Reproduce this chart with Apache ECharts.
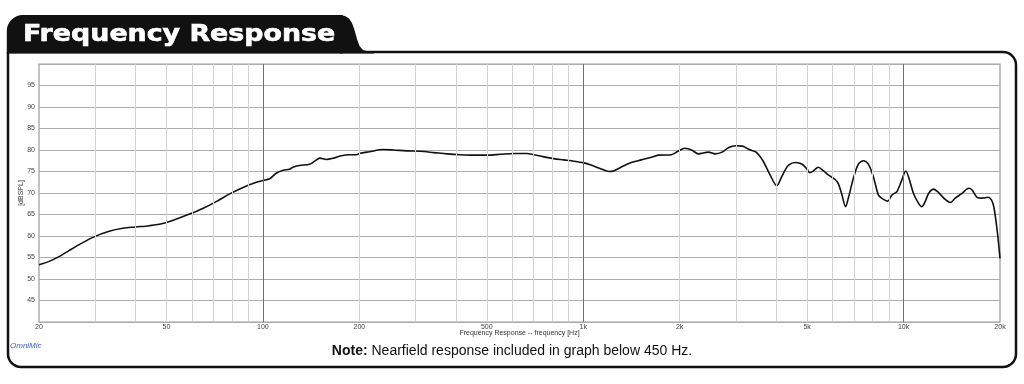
<!DOCTYPE html>
<html><head><meta charset="utf-8">
<script src="https://cdn.jsdelivr.net/npm/echarts@6/dist/echarts.min.js"></script>
<style>html,body{margin:0;padding:0;background:#fff}#c{width:1024px;height:384px}</style>
</head><body><div id="c"></div>
<script>
// Frequency (Hz)
const freqs = [20,21.5,23.1,24.8,26.7,29.7,33.1,36.5,40.1,44.2,48.7,53.5,59,64.9,71.5,78.8,86.7,95.4,100,105,110,115.7,121,124,130,140,145,150.6,158,166,174,187,196,200,215,237,255,281,310,342,376,414,456,502,552,608,668,700,754,808,870,936,1005,1057,1138,1203,1249,1344,1412,1518,1632,1714,1883,1976,2076,2180,2289,2460,2584,2711,2846,2990,3140,3298,3464,3638,3820,4020,4166,4266,4374,4594,4826,5000,5096,5224,5416,5614,5820,6104,6254,6405,6592,6723,6970,7226,7490,7764,8048,8346,8546,8924,9186,9522,9872,10160,10360,10740,11140,11400,11680,11970,12410,12860,13490,13990,14500,15220,15970,16360,16960,17580,18360,18800,19130,19590,20000];
// SPL (dB)
const spl = [53.3,54.1,55.2,56.6,58.0,59.8,61.1,61.8,62.1,62.4,62.9,63.9,65.1,66.4,68.0,69.8,71.3,72.5,72.9,73.3,74.6,75.3,75.5,76.0,76.4,76.7,77.4,78.1,77.8,78.1,78.6,78.9,78.9,79.2,79.6,80.1,80.0,79.8,79.7,79.4,79.1,78.9,78.8,78.8,79.0,79.2,79.2,78.9,78.4,78.0,77.7,77.4,77.0,76.5,75.6,75.0,75.2,76.4,77.1,77.7,78.3,78.8,78.9,79.7,80.4,80.0,79.1,79.5,79.1,79.5,80.6,81.0,80.9,80.1,79.5,77.5,74.4,71.7,73.8,75.3,76.5,77.1,76.7,75.5,74.7,75.1,76.0,75.2,74.2,73.2,72.2,69.9,66.8,68.8,73.4,76.7,77.5,76.7,73.8,69.5,68.8,68.1,69.5,70.3,73.0,75.1,73.8,69.9,67.6,66.8,68.0,69.9,70.9,70.1,68.5,67.8,68.8,69.9,71.1,70.7,69.0,68.8,69.0,68.4,66.8,61.4,54.8];
const minorFreqs = [30,40,50,60,70,80,90,200,300,400,500,600,700,800,900,2000,3000,4000,5000,6000,7000,8000,9000];
const majorFreqs = [100,1000,10000];
const tickFreqs = [20,50,100,200,500,1000,2000,5000,10000,20000];
const tickLabels = ['20','50','100','200','500','1k','2k','5k','10k','20k'];
const yTicks = [45,50,55,60,65,70,75,80,85,90,95];

const chart = echarts.init(document.getElementById('c'), null, {renderer:'canvas'});

const lineItems = [];
minorFreqs.forEach(f => lineItems.push({xAxis:f, lineStyle:{color:'#d2d2d2', width:1, type:'solid'}, label:{show:false}}));
majorFreqs.forEach(f => lineItems.push({xAxis:f, lineStyle:{color:'#6e6e6e', width:1, type:'solid'}, label:{show:false}}));
tickFreqs.forEach((f,i) => lineItems.push({xAxis:f, lineStyle:{color:'rgba(0,0,0,0)', width:0}, label:{show:true, formatter: tickLabels[i], color:'#444'}}));

const font = '"Liberation Sans", Arial, sans-serif';

chart.setOption({
  animation:false,
  backgroundColor:'#fff',
  grid:{left:39, right:24, top:64, bottom:62, show:true, borderColor:'#9a9a9a', borderWidth:1.2, backgroundColor:'transparent'},
  xAxis:{type:'log', logBase:10, min:20, max:20000,
    axisLine:{show:false}, axisTick:{show:false}, axisLabel:{show:false}, splitLine:{show:false},
    name:'Frequency Response -- frequency [Hz]', nameLocation:'middle', nameGap:8,
    nameTextStyle:{fontSize:7, color:'#333', fontFamily:font}},
  yAxis:{type:'value', min:40, max:100, interval:5,
    axisLine:{show:false}, axisTick:{show:false},
    axisLabel:{fontSize:7, color:'#444', fontFamily:font, margin:4,
      formatter: v => yTicks.indexOf(v) >= 0 ? String(v) : ''},
    splitLine:{show:true, lineStyle:{color:'#adadad', width:1.2}},
    name:'[dBSPL]', nameLocation:'middle', nameGap:14, nameRotate:90, nameMoveOverlap:false,
    nameTextStyle:{fontSize:7, color:'#333', fontFamily:font}},
  series:[
    {type:'line', data:[], z:1, silent:true,
      markLine:{silent:true, symbol:['none','none'], animation:false,
        label:{position:'start', fontSize:7, color:'#444', fontFamily:font, distance:2},
        data: lineItems}},
    {type:'line', z:3, data: freqs.map((f,i)=>[f, spl[i]]), showSymbol:false, symbol:'none',
      smooth:0.3, lineStyle:{color:'#111', width:1.6}}
  ],
  graphic:[
    {type:'rect', z:10, shape:{x:8, y:52, width:1008, height:315, r:[0,13,13,13]},
      style:{fill:'none', stroke:'#111', lineWidth:2.5}},
    {type:'rect', z:11, shape:{x:6.8, y:15, width:336, height:38.5, r:[16,0,0,0]},
      style:{fill:'#111'}},
    {type:'polygon', z:11, shape:{points:[[340,15],[345,16],[349,18.5],[352,23],[354.5,30],[357,39],[359.5,46],[363,50],[368,51.5],[374,52],[374,53.5],[340,53.5]]},
      style:{fill:'#111'}},
    {type:'text', z:12, x:23, y:35, scaleX:1.22, scaleY:1.02,
      style:{text:'Frequency Response', fill:'#fff', fontSize:22, fontWeight:'bold', fontFamily:'"DejaVu Sans", sans-serif', align:'left', verticalAlign:'middle', stroke:'#fff', lineWidth:0.6}},
    {type:'text', z:12, x:10, y:346,
      style:{text:'OmniMic', fill:'#3d5cc0', fontSize:8, fontStyle:'italic', fontFamily:font, align:'left', verticalAlign:'middle'}},
    {type:'text', z:12, x:512, y:351,
      style:{text:'{b|Note:} Nearfield response included in graph below 450 Hz.', fill:'#111', fontSize:14, fontFamily:font, align:'center', verticalAlign:'middle',
        rich:{b:{fontWeight:'bold', fontSize:14, fontFamily:font, fill:'#111'}}}}
  ]
});
</script>
</body></html>
